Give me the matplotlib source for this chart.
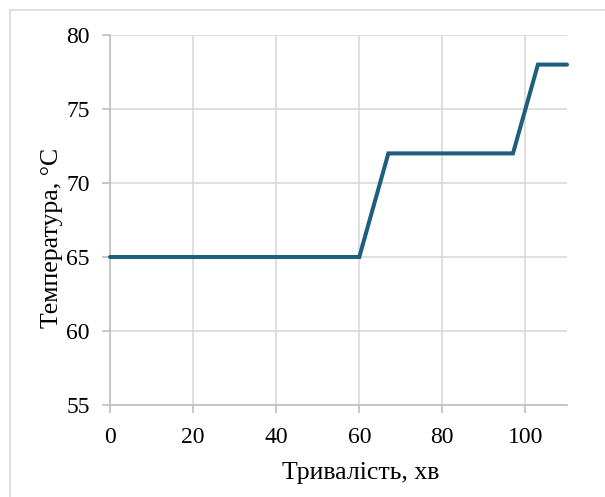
import matplotlib
matplotlib.use("Agg")
import matplotlib.pyplot as plt
from matplotlib.patches import Rectangle

time_min = [0, 60, 67, 97, 103, 110]
temp_c = [65, 65, 72, 72, 78, 78]
x_ticks = [0, 20, 40, 60, 80, 100]
y_ticks = [55, 60, 65, 70, 75, 80]

plt.rcParams['font.family'] = ['Liberation Serif', 'DejaVu Serif']

W, H = 605, 497
fig = plt.figure(figsize=(W / 100, H / 100), dpi=100)
fig.patches.append(Rectangle((10 / W, -20 / H), 620 / W, (H - 10 + 20) / H,
                             transform=fig.transFigure, fill=False,
                             edgecolor='#d9d9d9', linewidth=1.2))
L, R, T, B = 110, 567, 35, 405
ax = fig.add_axes([L / W, 1 - B / H, (R - L) / W, (B - T) / H])
ax.plot(time_min, temp_c, color='#1e5e7e', linewidth=2.9,
        solid_joinstyle='miter', solid_capstyle='round', zorder=3, clip_on=False)
ax.set_xlim(0, 110)
ax.set_ylim(55, 80)
ax.set_xticks(x_ticks)
ax.set_yticks(y_ticks)
ax.grid(True, color='#d9d9d9', linewidth=1.2)
for s in ['top', 'right']:
    ax.spines[s].set_visible(False)
for s in ['left', 'bottom']:
    ax.spines[s].set_color('#bfbfbf')
    ax.spines[s].set_linewidth(1.2)
ax.tick_params(axis='both', colors='#bfbfbf', labelcolor='black',
               labelsize=17, length=5.5, width=1.2)
ax.tick_params(axis='x', pad=10)
ax.tick_params(axis='y', pad=9)
ax.set_xlabel('Тривалість, хв', fontsize=18.5)
ax.set_ylabel('Температура, °C', fontsize=18.5)
ax.xaxis.set_label_coords((361 - L) / (R - L), -(462 - B) / (B - T))
ax.yaxis.set_label_coords(-(L - 63) / (R - L), 1 - (238 - T) / (B - T))
fig.savefig('out.png', dpi=100)
